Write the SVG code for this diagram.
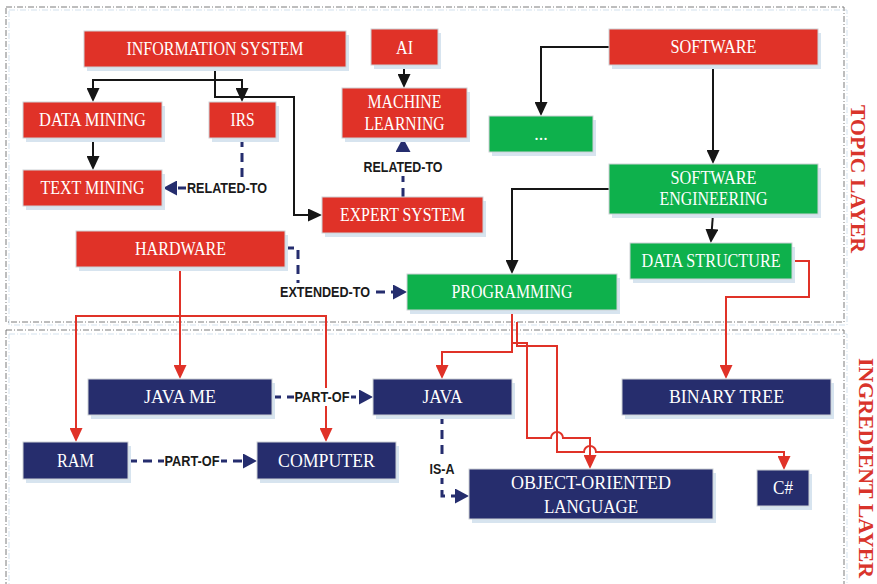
<svg xmlns="http://www.w3.org/2000/svg" width="877" height="584" viewBox="0 0 877 584">
  <defs>
    <style>
      .layer{fill:none;stroke:#7d7d7d;stroke-width:1;stroke-dasharray:6 2 1 2}
      .layer-sh{fill:none;stroke:#d3e1ed;stroke-width:1;stroke-dasharray:6 2 1 2}
      .layer-t{font-family:"Liberation Serif","Times New Roman",serif;font-weight:bold;font-size:21px;fill:#d9342b;text-anchor:middle}
      .sh{fill:#d7e4ef}
      .bx{stroke:#cdd1d6;stroke-width:1}
      .red .bx{fill:#e03228}
      .grn .bx{fill:#0eb14c}
      .nav .bx{fill:#262d6d}
      .nt{font-family:"Liberation Serif","Times New Roman",serif;font-size:18px;fill:#ffffff;text-anchor:middle}
      .cb{fill:none;stroke:#161616;stroke-width:2}
      .cr{fill:none;stroke:#e03228;stroke-width:2}
      .cd{fill:none;stroke:#252d6e;stroke-width:3;stroke-dasharray:9 6}
      .lbg{fill:#ffffff}
      .lb{font-family:"Liberation Sans",Arial,sans-serif;font-weight:bold;font-size:14px;fill:#1a1a1a;text-anchor:middle}
    </style>
    <marker id="ahBlack" markerUnits="userSpaceOnUse" markerWidth="14" markerHeight="13" refX="1" refY="6.5" orient="auto">
      <path d="M0,0 L14,6.5 L0,13 Z" fill="#161616"/>
    </marker>
    <marker id="ahRed" markerUnits="userSpaceOnUse" markerWidth="14" markerHeight="13" refX="1" refY="6.5" orient="auto">
      <path d="M0,0 L14,6.5 L0,13 Z" fill="#e03228"/>
    </marker>
    <marker id="ahBlue" markerUnits="userSpaceOnUse" markerWidth="14" markerHeight="15" refX="1" refY="7.5" orient="auto">
      <path d="M0,0 L14,7.5 L0,15 Z" fill="#252d6e"/>
    </marker>
  </defs>

  <rect width="877" height="584" fill="#ffffff"/>

  <!-- layer frames -->
  <g id="layers">
    <rect class="layer-sh" x="9" y="10" width="838" height="315"/>
    <rect class="layer" x="6" y="7" width="838" height="315"/>
    <rect class="layer-sh" x="9" y="334" width="838" height="270"/>
    <rect class="layer" x="6" y="330" width="838" height="270"/>
    <text class="layer-t" transform="translate(858,179) rotate(90)" x="0" y="7" textLength="148" lengthAdjust="spacingAndGlyphs">TOPIC LAYER</text>
    <text class="layer-t" transform="translate(866,468) rotate(90)" x="0" y="7" textLength="220" lengthAdjust="spacingAndGlyphs">INGREDIENT LAYER</text>
  </g>

  <!-- connectors -->
  <g id="connectors">
    <!-- hierarchy (black) -->
    <path class="cb" d="M215,67 V80 H93 V89" marker-end="url(#ahBlack)"/>
    <path class="cb" d="M215,80 H242 V89" marker-end="url(#ahBlack)"/>
    <path class="cb" d="M215,80 V97 H294 V215 H309" marker-end="url(#ahBlack)"/>
    <path class="cb" d="M93,138 V157" marker-end="url(#ahBlack)"/>
    <path class="cb" d="M404,65 V75" marker-end="url(#ahBlack)"/>
    <path class="cb" d="M609,47 H541 V103" marker-end="url(#ahBlack)"/>
    <path class="cb" d="M713,65 V151" marker-end="url(#ahBlack)"/>
    <path class="cb" d="M713,214 L711.8,230" marker-end="url(#ahBlack)"/>
    <path class="cb" d="M609,189 H512 V261" marker-end="url(#ahBlack)"/>

    <!-- cross-layer links (red) -->
    <path class="cr" d="M180,267 V366" marker-end="url(#ahRed)"/>
    <path class="cr" d="M180,316 H76 V429" marker-end="url(#ahRed)"/>
    <path class="cr" d="M180,316 H326 V429" marker-end="url(#ahRed)"/>
    <path class="cr" d="M512,310 V352 H442 V366" marker-end="url(#ahRed)"/>
    <path class="cr" d="M512,343 H527 V438 H551 A6,6 0 0 1 563,438 H590 V456" marker-end="url(#ahRed)"/>
    <path class="cr" d="M517,322 V346 H557 V452 H584 A6,6 0 0 1 596,452 H784 V457" marker-end="url(#ahRed)"/>
    <path class="cr" d="M792,261 H809 V297 H726 V366" marker-end="url(#ahRed)"/>

    <!-- typed relations (blue dashed) -->
    <path class="cd" d="M242,138 V188 H176" marker-end="url(#ahBlue)"/>
    <path class="cd" d="M403,197 V151" marker-end="url(#ahBlue)"/>
    <path class="cd" d="M285,248 H298 V292 H394" marker-end="url(#ahBlue)"/>
    <path class="cd" d="M272,397 H360" marker-end="url(#ahBlue)"/>
    <path class="cd" d="M128,461 H244" marker-end="url(#ahBlue)"/>
    <path class="cd" d="M442,415 V496 H456" marker-end="url(#ahBlue)"/>

    <!-- relation labels -->
    <rect class="lbg" x="186" y="179" width="82" height="18"/>
    <text class="lb" x="227" y="193" textLength="80" lengthAdjust="spacingAndGlyphs">RELATED-TO</text>
    <rect class="lbg" x="363" y="158" width="81" height="18"/>
    <text class="lb" x="403" y="172" textLength="79" lengthAdjust="spacingAndGlyphs">RELATED-TO</text>
    <rect class="lbg" x="279" y="283" width="92" height="18"/>
    <text class="lb" x="325" y="297" textLength="90" lengthAdjust="spacingAndGlyphs">EXTENDED-TO</text>
    <rect class="lbg" x="294" y="388" width="57" height="18"/>
    <text class="lb" x="322" y="402" textLength="55" lengthAdjust="spacingAndGlyphs">PART-OF</text>
    <rect class="lbg" x="164" y="452" width="57" height="18"/>
    <text class="lb" x="192" y="466" textLength="55" lengthAdjust="spacingAndGlyphs">PART-OF</text>
    <rect class="lbg" x="429" y="460" width="27" height="18"/>
    <text class="lb" x="442" y="474" textLength="25" lengthAdjust="spacingAndGlyphs">IS-A</text>
  </g>

  <!-- topic layer nodes -->
  <g id="information-system" class="red">
    <rect class="sh" x="87" y="35" width="262" height="36"/>
    <rect class="bx" x="84" y="31" width="262" height="36"/>
    <text class="nt" x="215" y="55" textLength="177" lengthAdjust="spacingAndGlyphs">INFORMATION SYSTEM</text>
  </g>
  <g id="ai" class="red">
    <rect class="sh" x="374" y="33" width="67" height="36"/>
    <rect class="bx" x="371" y="29" width="67" height="36"/>
    <text class="nt" x="404.5" y="54" textLength="17" lengthAdjust="spacingAndGlyphs">AI</text>
  </g>
  <g id="machine-learning" class="red">
    <rect class="sh" x="345" y="92" width="125" height="50"/>
    <rect class="bx" x="342" y="88" width="125" height="50"/>
    <text class="nt" x="404.5" y="108" textLength="74" lengthAdjust="spacingAndGlyphs">MACHINE</text>
    <text class="nt" x="404.5" y="130" textLength="80" lengthAdjust="spacingAndGlyphs">LEARNING</text>
  </g>
  <g id="data-mining" class="red">
    <rect class="sh" x="26" y="106" width="139" height="36"/>
    <rect class="bx" x="23" y="102" width="139" height="36"/>
    <text class="nt" x="92.5" y="126" textLength="107" lengthAdjust="spacingAndGlyphs">DATA MINING</text>
  </g>
  <g id="irs" class="red">
    <rect class="sh" x="212" y="106" width="67" height="36"/>
    <rect class="bx" x="209" y="102" width="67" height="36"/>
    <text class="nt" x="242.5" y="126" textLength="24" lengthAdjust="spacingAndGlyphs">IRS</text>
  </g>
  <g id="text-mining" class="red">
    <rect class="sh" x="26" y="174" width="139" height="36"/>
    <rect class="bx" x="23" y="170" width="139" height="36"/>
    <text class="nt" x="92.5" y="194" textLength="104" lengthAdjust="spacingAndGlyphs">TEXT MINING</text>
  </g>
  <g id="expert-system" class="red">
    <rect class="sh" x="325" y="201" width="161" height="36"/>
    <rect class="bx" x="322" y="197" width="161" height="36"/>
    <text class="nt" x="402.5" y="221" textLength="125" lengthAdjust="spacingAndGlyphs">EXPERT SYSTEM</text>
  </g>
  <g id="software" class="red">
    <rect class="sh" x="612" y="33" width="209" height="36"/>
    <rect class="bx" x="609" y="29" width="209" height="36"/>
    <text class="nt" x="713.5" y="53" textLength="86" lengthAdjust="spacingAndGlyphs">SOFTWARE</text>
  </g>
  <g id="hardware" class="red">
    <rect class="sh" x="79" y="235" width="209" height="36"/>
    <rect class="bx" x="76" y="231" width="209" height="36"/>
    <text class="nt" x="180.5" y="255" textLength="91" lengthAdjust="spacingAndGlyphs">HARDWARE</text>
  </g>
  <g id="other-topics" class="grn">
    <rect class="sh" x="492" y="120" width="104" height="36"/>
    <rect class="bx" x="489" y="116" width="104" height="36"/>
    <text class="nt" x="541" y="140">...</text>
  </g>
  <g id="software-engineering" class="grn">
    <rect class="sh" x="612" y="168" width="209" height="50"/>
    <rect class="bx" x="609" y="164" width="209" height="50"/>
    <text class="nt" x="713.5" y="184" textLength="86" lengthAdjust="spacingAndGlyphs">SOFTWARE</text>
    <text class="nt" x="713.5" y="205" textLength="108" lengthAdjust="spacingAndGlyphs">ENGINEERING</text>
  </g>
  <g id="data-structure" class="grn">
    <rect class="sh" x="633" y="247" width="162" height="36"/>
    <rect class="bx" x="630" y="243" width="162" height="36"/>
    <text class="nt" x="711" y="267" textLength="139" lengthAdjust="spacingAndGlyphs">DATA STRUCTURE</text>
  </g>
  <g id="programming" class="grn">
    <rect class="sh" x="410" y="278" width="210" height="36"/>
    <rect class="bx" x="407" y="274" width="210" height="36"/>
    <text class="nt" x="512" y="298" textLength="121" lengthAdjust="spacingAndGlyphs">PROGRAMMING</text>
  </g>

  <!-- ingredient layer nodes -->
  <g id="java-me" class="nav">
    <rect class="sh" x="91" y="383" width="184" height="36"/>
    <rect class="bx" x="88" y="379" width="184" height="36"/>
    <text class="nt" x="180" y="403" textLength="72" lengthAdjust="spacingAndGlyphs">JAVA ME</text>
  </g>
  <g id="java" class="nav">
    <rect class="sh" x="376" y="383" width="139" height="36"/>
    <rect class="bx" x="373" y="379" width="139" height="36"/>
    <text class="nt" x="442.5" y="403" textLength="40" lengthAdjust="spacingAndGlyphs">JAVA</text>
  </g>
  <g id="binary-tree" class="nav">
    <rect class="sh" x="625" y="383" width="209" height="36"/>
    <rect class="bx" x="622" y="379" width="209" height="36"/>
    <text class="nt" x="726.5" y="403" textLength="115" lengthAdjust="spacingAndGlyphs">BINARY TREE</text>
  </g>
  <g id="ram" class="nav">
    <rect class="sh" x="26" y="446" width="105" height="37"/>
    <rect class="bx" x="23" y="442" width="105" height="37"/>
    <text class="nt" x="75.5" y="467" textLength="37" lengthAdjust="spacingAndGlyphs">RAM</text>
  </g>
  <g id="computer" class="nav">
    <rect class="sh" x="260" y="446" width="139" height="37"/>
    <rect class="bx" x="257" y="442" width="139" height="37"/>
    <text class="nt" x="326.5" y="467" textLength="97" lengthAdjust="spacingAndGlyphs">COMPUTER</text>
  </g>
  <g id="object-oriented-language" class="nav">
    <rect class="sh" x="472" y="473" width="244" height="50"/>
    <rect class="bx" x="469" y="469" width="244" height="50"/>
    <text class="nt" x="591" y="489" textLength="160" lengthAdjust="spacingAndGlyphs">OBJECT-ORIENTED</text>
    <text class="nt" x="591" y="513" textLength="94" lengthAdjust="spacingAndGlyphs">LANGUAGE</text>
  </g>
  <g id="csharp" class="nav">
    <rect class="sh" x="760" y="474" width="52" height="36"/>
    <rect class="bx" x="757" y="470" width="52" height="36"/>
    <text class="nt" x="783" y="494" textLength="20" lengthAdjust="spacingAndGlyphs">C#</text>
  </g>
</svg>
